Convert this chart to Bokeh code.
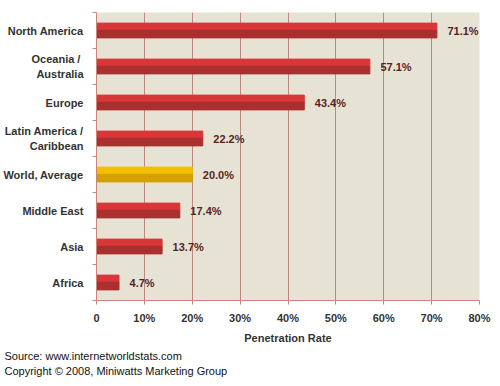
from bokeh.plotting import figure
from bokeh.models import FixedTicker, ColumnDataSource, Title
from bokeh.embed import file_html
from bokeh.resources import INLINE
from bokeh.core.properties import value

regions = ["North America", "Oceania  /\nAustralia", "Europe", "Latin America /\nCaribbean",
           "World, Average", "Middle East", "Asia", "Africa"]
rates = [71.1, 57.1, 43.4, 22.2, 20.0, 17.4, 13.7, 4.7]
rate_labels = ["71.1%", "57.1%", "43.4%", "22.2%", "20.0%", "17.4%", "13.7%", "4.7%"]
x_ticks = [0, 10, 20, 30, 40, 50, 60, 70, 80]
x_tick_labels = ["0", "10%", "20%", "30%", "40%", "50%", "60%", "70%", "80%"]

n = len(regions)
ypos = [n - 0.5 - i for i in range(n)]
top_col = ["#f2c000" if r.startswith("World") else "#d8373a" for r in regions]
bot_col = ["#d4a000" if r.startswith("World") else "#a8302f" for r in regions]

src = ColumnDataSource(dict(y=ypos, v=rates, lab=rate_labels, tc=top_col, bc=bot_col,
                            ytop=[y + 0.1 for y in ypos], ybot=[y - 0.1 for y in ypos],
                            lx=[v + 2.2 for v in rates]))

p = figure(width=492, height=378, x_range=(0, 80), y_range=(0, n),
           output_backend="svg", toolbar_location=None,
           min_border_left=93, min_border_top=12, min_border_right=13, min_border_bottom=78)
p.background_fill_color = "#e6e3d5"
p.border_fill_color = "white"
p.outline_line_color = None

p.hbar(y="ytop", right="v", left=0, height=0.21, color="tc", source=src)
p.hbar(y="ybot", right="v", left=0, height=0.21, color="bc", source=src)
p.text(x="lx", y="y", text="lab", source=src, text_font=value("Liberation Sans"),
       text_font_style="bold", text_font_size="11px", text_color="#5a1e1e",
       text_baseline="middle", text_align="left")

p.xgrid.ticker = FixedTicker(ticks=x_ticks)
p.xgrid.grid_line_color = "#b88a80"
p.xgrid.grid_line_width = 1
p.ygrid.grid_line_color = None

p.xaxis.ticker = FixedTicker(ticks=x_ticks)
p.xaxis.major_label_overrides = {t: l for t, l in zip(x_ticks, x_tick_labels)}
p.xaxis.axis_label = "Penetration Rate"
p.xaxis.axis_label_text_font = "Liberation Sans"
p.xaxis.axis_label_text_font_style = "bold"
p.xaxis.axis_label_text_font_size = "11px"
p.xaxis.axis_label_text_color = "#333333"
p.xaxis.axis_label_standoff = 5
p.xaxis.major_label_text_font = "Liberation Sans"
p.xaxis.major_label_text_font_style = "bold"
p.xaxis.major_label_text_font_size = "11px"
p.xaxis.major_label_text_color = "#333333"
p.xaxis.major_label_standoff = 7
p.xaxis.axis_line_color = "#c8867a"
p.xaxis.major_tick_line_color = "#c8867a"
p.xaxis.major_tick_out = 4
p.xaxis.major_tick_in = 0
p.xaxis.minor_tick_line_color = None

p.yaxis.ticker = FixedTicker(ticks=ypos, minor_ticks=list(range(n + 1)))
p.yaxis.major_label_overrides = {y: r for y, r in zip(ypos, regions)}
p.yaxis.major_label_text_font = "Liberation Sans"
p.yaxis.major_label_text_font_style = "bold"
p.yaxis.major_label_text_font_size = "11px"
p.yaxis.major_label_text_color = "#333333"
p.yaxis.major_label_text_align = "right"
p.yaxis.major_label_standoff = 7
p.yaxis.axis_line_color = "#c8867a"
p.yaxis.major_tick_line_color = None
p.yaxis.minor_tick_line_color = "#c8867a"
p.yaxis.minor_tick_out = 4
p.yaxis.minor_tick_in = 0

for txt, st in [("Source: www.internetworldstats.com", 2),
                ("Copyright \u00a9 2008, Miniwatts Marketing Group", 0)]:
    p.add_layout(Title(text=txt, align="left", offset=-92, standoff=st,
                       text_font="Liberation Sans", text_font_size="11px",
                       text_font_style="normal", text_color="#111111"), "below")

open("out.html", "w").write(file_html(p, INLINE))
